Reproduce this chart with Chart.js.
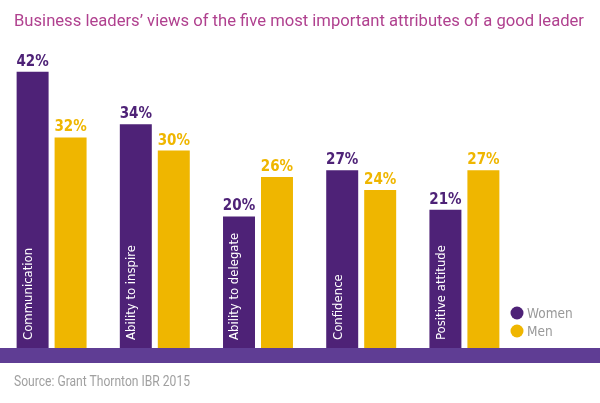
<!DOCTYPE html>
<html>
<head>
<meta charset="utf-8">
<script src="https://cdn.jsdelivr.net/npm/chart.js@4"></script>
<style>
  html, body { margin: 0; padding: 0; background: #fff; }
  #wrap { position: relative; width: 600px; height: 403px; overflow: hidden; }
  #c { position: absolute; left: 0; top: 0; }
  .txt { position: absolute; left: 14px; font-family: Roboto, sans-serif; white-space: nowrap; transform-origin: 0 0; line-height: 1; }
  #title { top: 13px; font-size: 16px; color: #b0418f; }
  #source { top: 374px; font-size: 14px; color: #a0a0a0; }
</style>
</head>
<body>
<div id="wrap">
  <canvas id="c" width="600" height="403"></canvas>
  <div id="title" class="txt" data-w="570">Business leaders’ views of the five most important attributes of a good leader</div>
  <div id="source" class="txt" data-w="176">Source: Grant Thornton IBR 2015</div>
</div>
<script>
const categories = ["Communication", "Ability to inspire", "Ability to delegate", "Confidence", "Positive attitude"];
const women = [42, 34, 20, 27, 21];
const men = [32, 30, 26, 24, 27];
const seriesNames = ["Women", "Men"];

const PURPLE = "#4e2277";
const YELLOW = "#efb600";
const BAND = "#5f3d94";
const FONT = '"DejaVu Sans Condensed", sans-serif';

document.querySelectorAll(".txt").forEach(el => {
  const target = parseFloat(el.dataset.w);
  const w = el.getBoundingClientRect().width;
  el.style.transform = "scaleX(" + (target / w) + ")";
});

const decor = {
  id: "decor",
  afterDatasetsDraw(chart) {
    const ctx = chart.ctx;
    const y0 = chart.scales.y.getPixelForValue(0);
    ctx.save();
    ctx.fillStyle = BAND;
    ctx.fillRect(0, y0, chart.width, 15);
    chart.data.datasets.forEach((ds, di) => {
      const meta = chart.getDatasetMeta(di);
      meta.data.forEach((bar, i) => {
        ctx.fillStyle = di === 0 ? PURPLE : YELLOW;
        ctx.font = "bold 15px " + FONT;
        ctx.textAlign = "center";
        ctx.textBaseline = "alphabetic";
        ctx.fillText(ds.data[i] + "%", bar.x, bar.y - 6);
      });
    });
    const m0 = chart.getDatasetMeta(0);
    m0.data.forEach((bar, i) => {
      ctx.save();
      ctx.translate(bar.x - 4, y0 - 8);
      ctx.rotate(-Math.PI / 2);
      ctx.fillStyle = "#ffffff";
      ctx.font = "13px " + FONT;
      ctx.textAlign = "left";
      ctx.textBaseline = "middle";
      ctx.fillText(categories[i], 0, 0);
      ctx.restore();
    });
    const lx = 517, ly = [313, 331];
    seriesNames.forEach((name, k) => {
      ctx.beginPath();
      ctx.fillStyle = k === 0 ? PURPLE : YELLOW;
      ctx.arc(lx, ly[k], 6.5, 0, Math.PI * 2);
      ctx.fill();
      ctx.fillStyle = "#999999";
      ctx.font = "13.5px " + FONT;
      ctx.textAlign = "left";
      ctx.textBaseline = "middle";
      ctx.fillText(name, lx + 10, ly[k] + 1);
    });
    ctx.restore();
  }
};

new Chart(document.getElementById("c"), {
  type: "bar",
  data: {
    labels: categories,
    datasets: [
      { label: seriesNames[0], data: women, backgroundColor: PURPLE },
      { label: seriesNames[1], data: men, backgroundColor: YELLOW }
    ]
  },
  options: {
    responsive: false,
    animation: false,
    events: [],
    layout: { padding: { left: 0, right: 84, top: 19, bottom: 55 } },
    datasets: { bar: { categoryPercentage: 0.736, barPercentage: 0.842 } },
    scales: {
      x: { display: false },
      y: { display: false, min: 0, max: 50 }
    },
    plugins: { legend: { display: false }, tooltip: { enabled: false }, title: { display: false } }
  },
  plugins: [decor]
});
</script>
</body>
</html>
